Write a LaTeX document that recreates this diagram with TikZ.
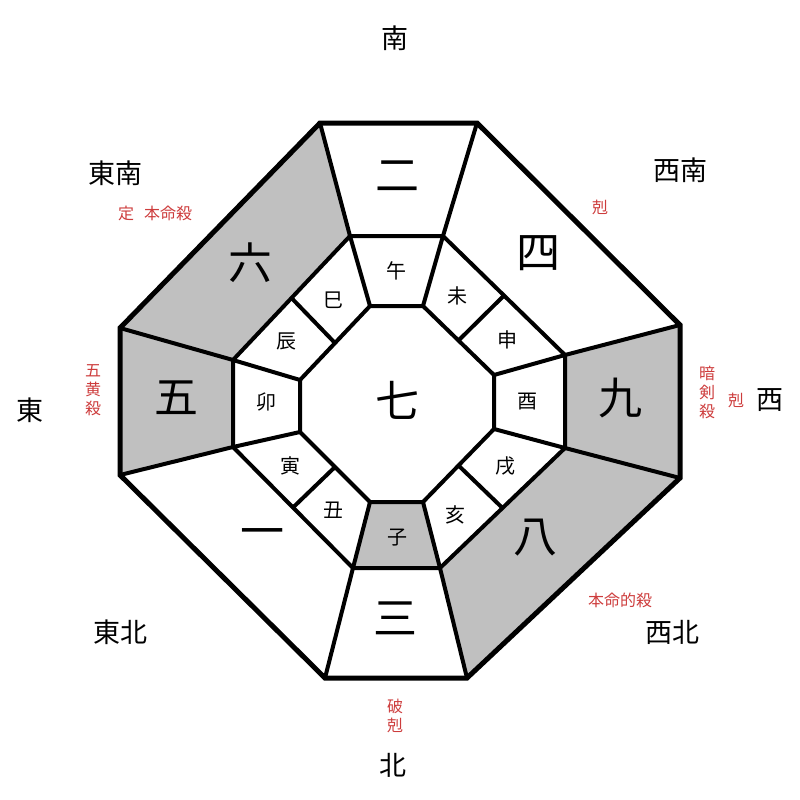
\documentclass[tikz,border=0pt]{standalone}
\usepackage{fontspec}
\usetikzlibrary{calc}
\setmainfont{Noto Sans CJK JP}
\definecolor{redlbl}{RGB}{205,60,60}
\definecolor{cellgrey}{RGB}{192,192,192}
\begin{document}
\begin{tikzpicture}[x=1pt,y=-1pt,
  heavy/.style={line width=5pt,line join=miter},
  mid/.style={line width=4pt},
  big/.style={font=\fontsize{44}{44}\selectfont},
  zod/.style={font=\fontsize{20}{20}\selectfont},
  dir/.style={font=\fontsize{27}{27}\selectfont},
  red/.style={text=redlbl,font=\fontsize{16}{19}\selectfont,align=center,inner sep=0pt}]
\useasboundingbox (0,0) rectangle (800,800);
% outer vertices
\coordinate (O1) at (320,123); \coordinate (O2) at (477,123);
\coordinate (O3) at (680,325); \coordinate (O4) at (680,478);
\coordinate (O5) at (467,678); \coordinate (O6) at (325,678);
\coordinate (O7) at (120,475); \coordinate (O8) at (120,328);
% middle
\coordinate (M1) at (350,236); \coordinate (M2) at (443,236);
\coordinate (M3) at (565,355); \coordinate (M4) at (565,448);
\coordinate (M5) at (440,568); \coordinate (M6) at (353,568);
\coordinate (M7) at (233,447); \coordinate (M8) at (233,360);
% inner
\coordinate (I1) at (370,306); \coordinate (I2) at (423,306);
\coordinate (I3) at (494,375); \coordinate (I4) at (494,429);
\coordinate (I5) at (423,502); \coordinate (I6) at (370,502);
\coordinate (I7) at (300,432); \coordinate (I8) at (300,380);
% grey fills
\fill[cellgrey] (O8)--(O1)--(M1)--(M8)--cycle;
\fill[cellgrey] (O7)--(O8)--(M8)--(M7)--cycle;
\fill[cellgrey] (O3)--(O4)--(M4)--(M3)--cycle;
\fill[cellgrey] (O4)--(O5)--(M5)--(M4)--cycle;
\fill[cellgrey] (M5)--(M6)--(I6)--(I5)--cycle;
% radial lines
\foreach \i in {1,...,8}{\draw[mid] (O\i)--(M\i); \draw[mid] (M\i)--(I\i);}
% zodiac dividers
\draw[mid] ($(M2)!0.5!(M3)$)--($(I2)!0.5!(I3)$);
\draw[mid] ($(M4)!0.5!(M5)$)--($(I4)!0.5!(I5)$);
\draw[mid] ($(M6)!0.5!(M7)$)--($(I6)!0.5!(I7)$);
\draw[mid] ($(M8)!0.5!(M1)$)--($(I8)!0.5!(I1)$);
\draw[mid] (M1)--(M2)--(M3)--(M4)--(M5)--(M6)--(M7)--(M8)--cycle;
\draw[mid] (I1)--(I2)--(I3)--(I4)--(I5)--(I6)--(I7)--(I8)--cycle;
\draw[heavy] (O1)--(O2)--(O3)--(O4)--(O5)--(O6)--(O7)--(O8)--cycle;
% numbers
\node[big] (n2) at (397,176) {二};
\node[big] (n4) at (538,253) {四};
\node[big] (n9) at (620,398) {九};
\node[big] (n8) at (535,538) {八};
\node[big] (n3) at (395,618) {三};
\node[big] (n1) at (262,538) {一};
\node[big] (n5) at (176,398) {五};
\node[big] (n6) at (250,263) {六};
\node[big] (n7) at (397,400) {七};
% zodiac
\node[zod] (z1) at (396,271) {午};
\node[zod] (z2) at (457,296) {未};
\node[zod] (z3) at (507,340) {申};
\node[zod] (z4) at (527,402) {酉};
\node[zod] (z5) at (505,466) {戌};
\node[zod] (z6) at (455,515) {亥};
\node[zod] (z7) at (397,538) {子};
\node[zod] (z8) at (333,510) {丑};
\node[zod] (z9) at (290,466) {寅};
\node[zod] (z10) at (266,402) {卯};
\node[zod] (z11) at (286,341) {辰};
\node[zod] (z12) at (333,300) {巳};
% directions
\node[dir] (dS) at (395,38) {南};
\node[dir] (dSE) at (115,173) {東南};
\node[dir] (dSW) at (680,170) {西南};
\node[dir] (dE) at (30,410) {東};
\node[dir] (dW) at (770,400) {西};
\node[dir] (dNE) at (120,632) {東北};
\node[dir] (dNW) at (672,632) {西北};
\node[dir] (dN) at (393,765) {北};
% red labels
\node[red] (r1) at (155,213) {定\hspace{10pt}本命殺};
\node[red] (r2) at (600,207) {剋};
\node[red] (r3) at (707,392) {暗\\剣\\殺};
\node[red] (r4) at (736,400) {剋};
\node[red] (r5) at (93,390) {五\\黄\\殺};
\node[red] (r6) at (620,600) {本命的殺};
\node[red] (r7) at (395,716) {破\\剋};
\end{tikzpicture}
\end{document}
